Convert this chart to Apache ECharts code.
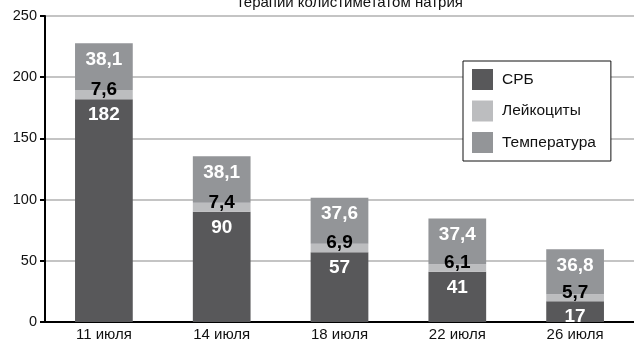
<!DOCTYPE html>
<html>
<head>
<meta charset="utf-8">
<script src="https://cdn.jsdelivr.net/npm/echarts@6/dist/echarts.min.js"></script>
<style>
  html, body { margin: 0; padding: 0; background: #fff; }
  #chart { width: 634px; height: 344px; }
</style>
</head>
<body>
<div id="chart"></div>
<script>
// data
var days = ['11 июля', '14 июля', '18 июля', '22 июля', '26 июля'];
var crp = [182, 90, 57, 41, 17];
var leuko = [7.6, 7.4, 6.9, 6.1, 5.7];
var temp = [38.1, 38.1, 37.6, 37.4, 36.8];

var myChart = echarts.init(document.getElementById('chart'));

function commaNum(p) {
  return String(p.value).replace('.', ',');
}

var font = 'Liberation Sans, Arial, Helvetica, sans-serif';

var option = {
  animation: false,
  textStyle: { fontFamily: font },
  title: {
    text: 'терапии колистиметатом натрия',
    left: 345,
    textAlign: 'center',
    top: -10,
    textStyle: { fontSize: 15, fontWeight: 'normal', color: '#111', fontFamily: font }
  },
  legend: {
    orient: 'vertical',
    left: 463,
    top: 61,
    backgroundColor: '#fff',
    borderColor: '#111',
    borderWidth: 1,
    borderRadius: 0,
    padding: [8, 15, 8, 9],
    itemWidth: 21,
    itemHeight: 21,
    itemGap: 10.5,
    icon: 'rect',
    textStyle: { fontSize: 15.5, color: '#111', fontFamily: font, padding: [0, 0, 0, 4] },
    data: ['СРБ', 'Лейкоциты', 'Температура']
  },
  grid: { left: 45, right: -6, top: 16, bottom: 22 },
  xAxis: {
    type: 'category',
    data: days,
    axisLine: { lineStyle: { color: '#000', width: 2 } },
    axisTick: { show: false },
    axisLabel: { color: '#111', fontSize: 15, margin: 5, fontFamily: font }
  },
  yAxis: {
    type: 'value',
    min: 0,
    max: 250,
    interval: 50,
    axisLine: { show: true, lineStyle: { color: '#000', width: 2 } },
    axisTick: { show: true, length: 5, lineStyle: { color: '#000', width: 2 } },
    axisLabel: { color: '#111', fontSize: 14.5, margin: 8, fontFamily: font },
    splitLine: { lineStyle: { color: '#c4c4c4', width: 2 } }
  },
  series: [
    {
      name: 'СРБ',
      type: 'bar',
      stack: 'a',
      barWidth: '49%',
      data: crp,
      itemStyle: { color: '#58585a' },
      label: {
        show: true, position: 'insideTop', distance: 6,
        color: '#fff', fontSize: 19, fontWeight: 'bold', fontFamily: font,
        formatter: commaNum
      }
    },
    {
      name: 'Лейкоциты',
      type: 'bar',
      stack: 'a',
      data: leuko,
      itemStyle: { color: '#bcbdbf' },
      label: {
        show: true, position: 'inside', offset: [0, -5],
        color: '#000', fontSize: 19, fontWeight: 'bold', fontFamily: font,
        formatter: commaNum
      }
    },
    {
      name: 'Температура',
      type: 'bar',
      stack: 'a',
      data: temp,
      itemStyle: { color: '#939598' },
      label: {
        show: true, position: 'insideTop', distance: 7,
        color: '#fff', fontSize: 19, fontWeight: 'bold', fontFamily: font,
        formatter: commaNum
      }
    }
  ]
};

myChart.setOption(option);
</script>
</body>
</html>
